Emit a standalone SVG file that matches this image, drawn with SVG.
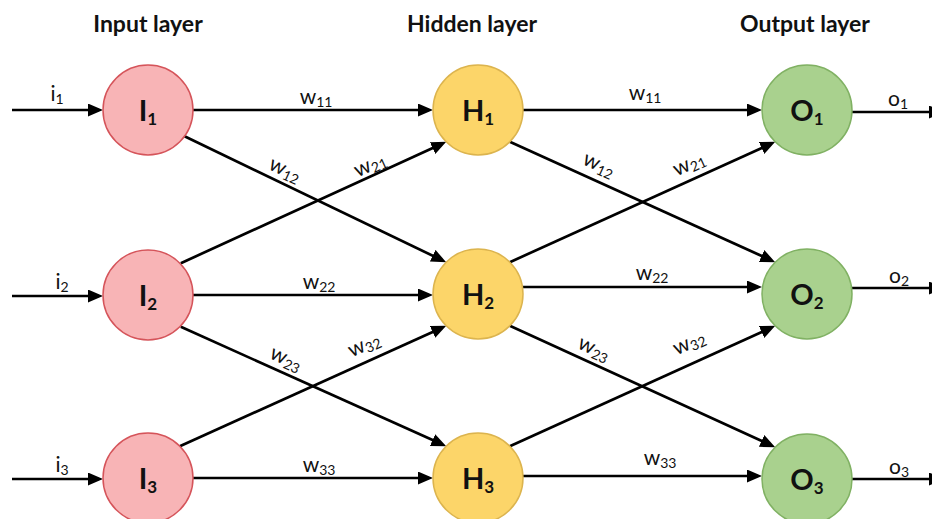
<svg xmlns="http://www.w3.org/2000/svg" width="932" height="519" viewBox="0 0 932 519">
<style>
.t{font-family:Lato,"Open Sans","Liberation Sans",sans-serif;fill:#111}
.title{font-size:23px;font-weight:bold;text-anchor:middle}
.nl{font-size:29px;font-weight:bold;text-anchor:middle}
.ns{font-size:17px}
.wl{font-size:21px;text-anchor:middle}
.ws{font-size:14px}
.e{fill:none;stroke:#000;stroke-width:2.7;marker-end:url(#ah)}
.in{fill:#f8b4b6;stroke:#d5545a;stroke-width:1.5}
.hid{fill:#fcd569;stroke:#dcb44e;stroke-width:1.5}
.out{fill:#a9d18e;stroke:#80b163;stroke-width:1.5}
</style>
<defs>
<marker id="ah" markerUnits="userSpaceOnUse" markerWidth="15" markerHeight="13" refX="11" refY="6.5" orient="auto"><path d="M0,0 L15,6.5 L0,13 z" fill="#000"/></marker>
</defs>
<rect width="932" height="519" fill="#fff"/>
<g id="titles" class="t">
<text class="title" x="148" y="32">Input layer</text>
<text class="title" x="472" y="32">Hidden layer</text>
<text class="title" x="805" y="32">Output layer</text>
</g>
<g id="connectors">
<path class="e" d="M12,110 H99"/>
<path class="e" d="M12,296 H99"/>
<path class="e" d="M12,479 H99"/>
<path class="e" d="M193,110 H429"/>
<path class="e" d="M193,295 H429"/>
<path class="e" d="M193,478 H429"/>
<path class="e" d="M184,136 L442.6,260.5"/>
<path class="e" d="M180.8,263.2 L442.6,143.5"/>
<path class="e" d="M180.8,326.8 L442.6,444.6"/>
<path class="e" d="M179.8,446.2 L442.6,327.4"/>
<path class="e" d="M523,110 H758"/>
<path class="e" d="M523,287 H758"/>
<path class="e" d="M523,476 H758"/>
<path class="e" d="M509.8,141.8 L771.6,260.5"/>
<path class="e" d="M509.8,262.2 L771.6,143.5"/>
<path class="e" d="M509.8,325.8 L771.6,445.5"/>
<path class="e" d="M509.8,446.2 L771.6,327.5"/>
<path class="e" d="M852,112 H940"/>
<path class="e" d="M852,288 H940"/>
<path class="e" d="M852,479 H940"/>
</g>
<g id="edge-labels" class="t">
<text class="wl" x="57" y="101">i<tspan class="ws" dy="3">1</tspan></text>
<text class="wl" x="62" y="289">i<tspan class="ws" dy="3">2</tspan></text>
<text class="wl" x="62" y="472">i<tspan class="ws" dy="3">3</tspan></text>
<text class="wl" x="316" y="104">w<tspan class="ws" dy="3">11</tspan></text>
<text class="wl" x="319" y="289">w<tspan class="ws" dy="3">22</tspan></text>
<text class="wl" x="319" y="472">w<tspan class="ws" dy="3">33</tspan></text>
<text class="wl" transform="translate(284,172) rotate(25)" y="4">w<tspan class="ws" dy="3">12</tspan></text>
<text class="wl" transform="translate(371,167) rotate(-24.5)" y="4">w<tspan class="ws" dy="3">21</tspan></text>
<text class="wl" transform="translate(285,361) rotate(24.5)" y="4">w<tspan class="ws" dy="3">23</tspan></text>
<text class="wl" transform="translate(365,347) rotate(-24.5)" y="4">w<tspan class="ws" dy="3">32</tspan></text>
<text class="wl" x="645" y="100">w<tspan class="ws" dy="3">11</tspan></text>
<text class="wl" x="652" y="280">w<tspan class="ws" dy="3">22</tspan></text>
<text class="wl" x="660" y="465">w<tspan class="ws" dy="3">33</tspan></text>
<text class="wl" transform="translate(598,167) rotate(24.5)" y="4">w<tspan class="ws" dy="3">12</tspan></text>
<text class="wl" transform="translate(690,166) rotate(-24.5)" y="4">w<tspan class="ws" dy="3">21</tspan></text>
<text class="wl" transform="translate(593,351) rotate(24.5)" y="4">w<tspan class="ws" dy="3">23</tspan></text>
<text class="wl" transform="translate(690,345) rotate(-24.5)" y="4">w<tspan class="ws" dy="3">32</tspan></text>
<text class="wl" x="898" y="106">o<tspan class="ws" dy="3">1</tspan></text>
<text class="wl" x="899" y="283">o<tspan class="ws" dy="3">2</tspan></text>
<text class="wl" x="899" y="474">o<tspan class="ws" dy="3">3</tspan></text>
</g>
<g id="I1"><circle class="in" cx="148" cy="110" r="45"/><text class="t nl" x="148" y="121">I<tspan class="ns" dy="4">1</tspan></text></g>
<g id="I2"><circle class="in" cx="148" cy="295" r="45"/><text class="t nl" x="148" y="306">I<tspan class="ns" dy="4">2</tspan></text></g>
<g id="I3"><circle class="in" cx="148" cy="478" r="45"/><text class="t nl" x="148" y="489">I<tspan class="ns" dy="4">3</tspan></text></g>
<g id="H1"><circle class="hid" cx="478" cy="110" r="45"/><text class="t nl" x="478" y="121">H<tspan class="ns" dy="4">1</tspan></text></g>
<g id="H2"><circle class="hid" cx="478" cy="294" r="45"/><text class="t nl" x="478" y="305">H<tspan class="ns" dy="4">2</tspan></text></g>
<g id="H3"><circle class="hid" cx="478" cy="478" r="45"/><text class="t nl" x="478" y="489">H<tspan class="ns" dy="4">3</tspan></text></g>
<g id="O1"><circle class="out" cx="807" cy="110" r="45"/><text class="t nl" x="807" y="121">O<tspan class="ns" dy="4">1</tspan></text></g>
<g id="O2"><circle class="out" cx="807" cy="294" r="45"/><text class="t nl" x="807" y="305">O<tspan class="ns" dy="4">2</tspan></text></g>
<g id="O3"><circle class="out" cx="807" cy="479" r="45"/><text class="t nl" x="807" y="490">O<tspan class="ns" dy="4">3</tspan></text></g>
</svg>
